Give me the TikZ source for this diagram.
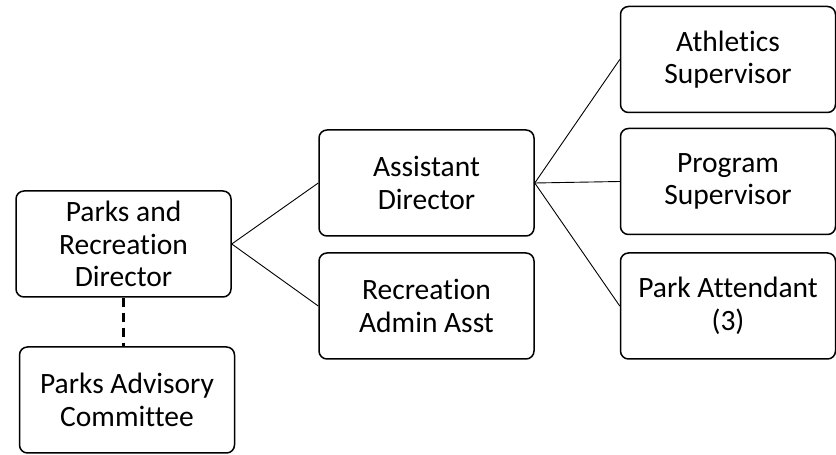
\documentclass[tikz,border=0pt]{standalone}
\usepackage{fontspec}
\setmainfont{Carlito}[Ligatures=NoCommon]
\usepackage{tikz}

\begin{document}
\begin{tikzpicture}[x=1pt,y=1pt,thin,
                    main node/.style={draw,line width=1.5pt,rounded corners=8pt,
                      minimum width=215pt,minimum height=106pt,inner sep=0pt,
                      align=center,font=\fontsize{29.5}{32.5}\selectfont}]
  \useasboundingbox (0,0) rectangle (836,455);
  \node[main node] (1) at (123.5,211) {Parks and\\Recreation\\Director};
  \node[main node] (2) at (127,55) {Parks Advisory\\Committee};
  \node[main node] (3) at (426.5,272) {Assistant\\Director};
  \node[main node] (4) at (426.5,149) {Recreation\\Admin Asst};
  \node[main node] (5) at (728,395.5) {Athletics\\Supervisor};
  \node[main node] (6) at (728,273.5) {Program\\Supervisor};
  \node[main node] (7) at (728,149) {Park Attendant\\(3)};
  \path[line width=0.9pt]
  (1.east) edge (3.west)
           edge (4.west)
  (3.east) edge (5.west)
           edge (6.west)
           edge (7.west);
  \draw[line width=2.6pt,dash pattern=on 9pt off 6pt] (1.south) -- (1.south |- 2.north);
\end{tikzpicture}
\end{document}
